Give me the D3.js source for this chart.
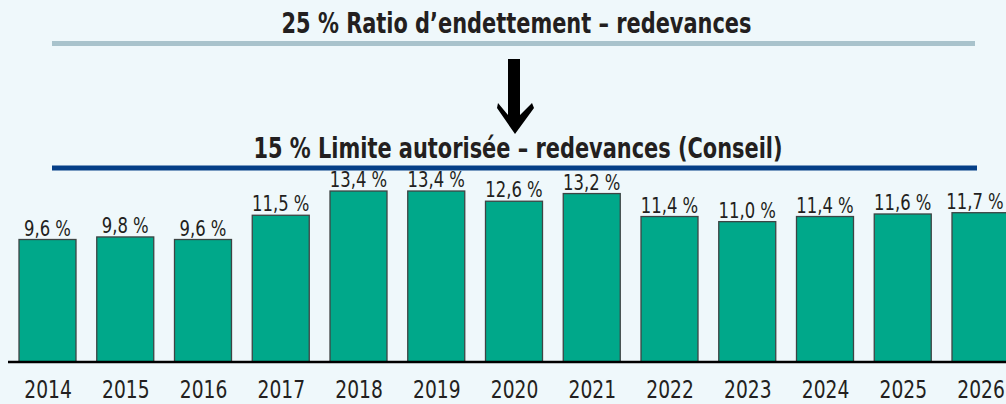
<!DOCTYPE html>
<html><head><meta charset="utf-8">
<script src="https://cdn.jsdelivr.net/npm/d3@7"></script>
<style>
html,body{margin:0;padding:0;background:#eff8fb;}
svg{display:block;}
text{font-family:"Liberation Sans Narrow","DejaVu Sans Condensed","Liberation Sans",sans-serif;font-stretch:condensed;fill:#231f20;}
</style></head>
<body><svg id="c" width="1006" height="404"></svg>
<script>
const years = ["2014","2015","2016","2017","2018","2019","2020","2021","2022","2023","2024","2025","2026"];
const ratios = [9.6, 9.8, 9.6, 11.5, 13.4, 13.4, 12.6, 13.2, 11.4, 11.0, 11.4, 11.6, 11.7];
const ratioLimit = 25;
const councilLimit = 15;
const titleTop = "25 % Ratio d’endettement – redevances";
const titleLimit = "15 % Limite autorisée – redevances (Conseil)";

const svg = d3.select("#c");
const W = 1006, H = 404;
const SX = 0.83; // horizontal condensing
svg.append("rect").attr("width", W).attr("height", H).attr("fill", "#eff8fb");

const x = d3.scalePoint().domain(years).range([47.5, 980.5]);
const y = d3.scaleLinear().domain([0, 25]).range([362, 43]);
const bw = 57;
const fmt = v => d3.format(".1f")(v).replace(".", ",") + " %";

function label(px, py, txt, size, bold) {
  return svg.append("text")
    .attr("transform", `translate(${px},${py}) scale(${SX},1)`)
    .attr("text-anchor", "middle")
    .attr("font-size", size)
    .attr("font-weight", bold ? "bold" : "normal")
    .text(txt);
}

// reference lines
svg.append("line").attr("x1", 52).attr("x2", 975)
  .attr("y1", y(ratioLimit) + 0.5).attr("y2", y(ratioLimit) + 0.5)
  .attr("stroke", "#a9c3cc").attr("stroke-width", 5);
svg.append("line").attr("x1", 52).attr("x2", 977)
  .attr("y1", y(councilLimit) - 2.5).attr("y2", y(councilLimit) - 2.5)
  .attr("stroke", "#053f87").attr("stroke-width", 5);

label(516.5, 33, titleTop, 28, true);
label(518, 158, titleLimit, 28, true);

// arrow
svg.append("path")
  .attr("d", "M508,59 L520,59 L520,115 L532,103 L534,108 L515,134 L497,108 L498,103 L508,115 Z")
  .attr("fill", "#000");

// bars
svg.selectAll("rect.bar").data(ratios).join("rect").attr("class", "bar")
  .attr("x", (d, i) => x(years[i]) - bw / 2)
  .attr("width", bw)
  .attr("y", d => y(d))
  .attr("height", d => y(0) - y(d))
  .attr("fill", "#00a88a").attr("stroke", "#3d4444").attr("stroke-width", 1.3);

svg.selectAll("text.val").data(ratios).join("text").attr("class", "val")
  .attr("transform", (d, i) => `translate(${Math.min(x(years[i]), W - 31)},${y(d) - 4}) scale(${SX},1)`)
  .attr("text-anchor", "middle").attr("font-size", 22)
  .text(d => fmt(d));

// axis
const axis = d3.axisBottom(x).tickSize(0).tickPadding(0);
const g = svg.append("g").attr("transform", `translate(0,${y(0)})`).call(axis);
g.select(".domain").remove();
g.attr("font-family", null);
g.selectAll(".tick text").attr("font-size", 25).attr("dy", 0).attr("y", 0)
  .attr("transform", `translate(0,36) scale(${SX},1)`).attr("fill", "#231f20");
svg.append("line").attr("x1", 8).attr("x2", W).attr("y1", y(0)).attr("y2", y(0))
  .attr("stroke", "#000").attr("stroke-width", 2.5);
</script></body></html>
